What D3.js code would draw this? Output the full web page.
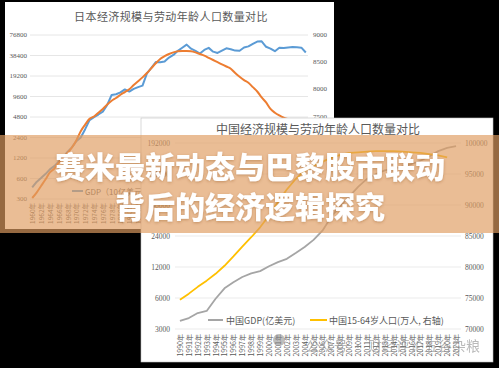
<!DOCTYPE html>
<html><head><meta charset="utf-8">
<script src="https://cdn.jsdelivr.net/npm/d3@7"></script>
<style>body{margin:0;background:#000;} svg{display:block;}</style>
</head><body>
<svg id="c" width="499" height="368"></svg>
<script>
// ---------- Japan chart data ----------
const jpYears = [1960,1961,1962,1963,1964,1965,1966,1967,1968,1969,1970,1971,1972,1973,1974,1975,1976,1977,1978,1979,1980,1981,1982,1983,1984,1985,1986,1987,1988,1989,1990,1991,1992,1993,1994,1995,1996,1997,1998,1999,2000,2001,2002,2003,2004,2005,2006,2007,2008,2009,2010,2011,2012,2013,2014,2015,2016,2017,2018,2019,2020,2021,2022];
const jpGDP = [443,535,608,697,816,910,1060,1230,1470,1720,2120,2400,3180,4320,4780,5220,5760,7210,10100,10370,11050,12180,11340,12440,13180,13850,21000,25300,30720,30540,31330,35840,39090,45000,49980,55460,48330,44920,40980,46360,49680,43740,41830,45190,48930,47550,45300,45150,50380,52310,57000,61570,62030,51560,48500,44440,50030,49300,50400,51180,50550,50050,42560];
const jpWorkAge = [6000,6100,6220,6340,6470,6540,6650,6740,6830,6930,7060,7230,7350,7460,7500,7570,7640,7720,7790,7840,7900,7950,8000,8080,8150,8220,8300,8390,8480,8560,8610,8650,8680,8700,8705,8705,8700,8680,8650,8620,8580,8540,8500,8460,8420,8380,8300,8230,8170,8120,8040,7960,7850,7760,7640,7570,7520,7480,7450,7420,7400,7380,7360];
const jpLeftTicks = [300,600,1200,2400,4800,9600,19200,38400,76800];
const jpRightTicks = [6000,6500,7000,7500,8000,8500,9000];
const jpTitle = "日本经济规模与劳动年龄人口数量对比";
const jpLegend = ["GDP（10亿美元）"];

// ---------- China chart data ----------
const cnYears = [1990,1991,1992,1993,1994,1995,1996,1997,1998,1999,2000,2001,2002,2003,2004,2005,2006,2007,2008,2009,2010,2011,2012,2013,2014,2015,2016,2017,2018,2019,2020,2021];
const cnGDP = [3590,3830,4290,4490,5900,7450,8550,9600,10400,10950,12200,13400,14400,16400,18800,22000,27000,37000,47000,58000,72000,86000,96000,104000,108000,114000,120000,129000,143000,160000,172000,179000];
const cnWorkAge = [74700,75700,76800,77800,78900,80200,81700,83300,84800,86400,88300,90500,92500,94200,95500,96300,97000,97600,98100,98400,98500,98600,98700,98700,98700,98600,98500,98400,98200,98000,97700];
const cnLeftTicks = [3000,6000,12000,24000,48000,96000,192000];
const cnRightTicks = [70000,75000,80000,85000,90000,95000,100000];
const cnTitle = "中国经济规模与劳动年龄人口数量对比";
const cnLegend = ["中国GDP(亿美元)","中国15-64岁人口(万人, 右轴)"];

const bannerLines = ["赛米最新动态与巴黎股市联动","背后的经济逻辑探究"];
const watermark = "公众号 · 财经评论五谷杂粮";

const CJK = "'Noto Sans CJK SC','Noto Sans',sans-serif";
const NUM = "'Liberation Serif','DejaVu Serif',serif";
const TXT = "#595959";

const svg = d3.select('#c');
svg.append('rect').attr('width',499).attr('height',368).attr('fill','#000');

// ================= Japan panel =================
const jp = svg.append('g');
jp.append('rect').attr('x',5).attr('y',2).attr('width',329).attr('height',227).attr('fill','#fff');
jp.append('text').attr('x',171).attr('y',16).attr('text-anchor','middle').attr('dominant-baseline','central')
  .attr('font-family',CJK).attr('font-size',11).attr('fill',TXT).attr('letter-spacing',0.4).text(jpTitle);

const jx = d3.scaleBand().domain(jpYears).range([30,308]);
const jbw = jx.bandwidth()/2;
const jyL = d3.scaleLog().base(2).domain([300,76800]).range([199,35]);
const jyR = d3.scaleLinear().domain([6000,9000]).range([198,35]);

jp.selectAll('line.g').data(jpLeftTicks).join('line')
  .attr('x1',30).attr('x2',308).attr('y1',d=>jyL(d)).attr('y2',d=>jyL(d))
  .attr('stroke','#e0e0e0').attr('stroke-width',0.8);
jp.selectAll('text.l').data(jpLeftTicks).join('text')
  .attr('x',27).attr('y',d=>jyL(d)).attr('text-anchor','end').attr('dominant-baseline','central')
  .attr('font-family',NUM).attr('font-size',7).attr('fill',TXT).text(d=>d);
jp.selectAll('text.r').data(jpRightTicks).join('text')
  .attr('x',313).attr('y',d=>jyR(d)).attr('text-anchor','start').attr('dominant-baseline','central')
  .attr('font-family',NUM).attr('font-size',7).attr('fill',TXT).text(d=>d);
jp.selectAll('text.x').data(jpYears.filter((d,i)=>i%2===0)).join('text')
  .attr('transform',d=>`translate(${jx(d)+jbw},203) rotate(-90)`)
  .attr('text-anchor','end').attr('dominant-baseline','central')
  .attr('font-family',CJK).attr('font-size',6.5).attr('fill',TXT).text(d=>d+'年');

const jLineG = d3.line().x((d,i)=>jx(jpYears[i])+jbw).y(d=>jyL(d));
const jLineP = d3.line().x((d,i)=>jx(jpYears[i])+jbw).y(d=>jyR(d)).curve(d3.curveMonotoneX);
jp.append('path').attr('d',jLineG(jpGDP)).attr('fill','none').attr('stroke','#5b9bd5').attr('stroke-width',2).attr('stroke-linejoin','round');
jp.append('path').attr('d',jLineP(jpWorkAge)).attr('fill','none').attr('stroke','#ed7d31').attr('stroke-width',2).attr('stroke-linejoin','round');

// legend (visible part)
jp.append('line').attr('x1',72).attr('x2',83).attr('y1',191).attr('y2',191).attr('stroke','#5b9bd5').attr('stroke-width',2);
jp.append('text').attr('x',85).attr('y',191).attr('dominant-baseline','central').attr('font-family',CJK).attr('font-size',8).attr('fill',TXT).text(jpLegend[0]);

// ================= China panel =================
const cn = svg.append('g');
cn.append('rect').attr('x',141).attr('y',118).attr('width',352).attr('height',244).attr('fill','#fff').attr('stroke','#bfbfbf').attr('stroke-width',0.6);
cn.append('text').attr('x',318).attr('y',128).attr('text-anchor','middle').attr('dominant-baseline','central')
  .attr('font-family',CJK).attr('font-size',12).attr('fill',TXT).text(cnTitle);

const cx = d3.scaleBand().domain(cnYears).range([175.5,460.5]);
const cbw = cx.bandwidth()/2;
const cyL = d3.scaleLog().base(2).domain([3000,192000]).range([329,143]);
const cyR = d3.scaleLinear().domain([70000,100000]).range([329,143]);

cn.selectAll('line.g').data(cnLeftTicks).join('line')
  .attr('x1',175).attr('x2',461).attr('y1',d=>cyL(d)).attr('y2',d=>cyL(d))
  .attr('stroke','#e6e6e6').attr('stroke-width',0.8);
cn.selectAll('text.l').data(cnLeftTicks).join('text')
  .attr('x',170).attr('y',d=>cyL(d)).attr('text-anchor','end').attr('dominant-baseline','central')
  .attr('font-family',NUM).attr('font-size',7.5).attr('fill',TXT).text(d=>d);
cn.selectAll('text.r').data(cnRightTicks).join('text')
  .attr('x',465).attr('y',d=>cyR(d)).attr('text-anchor','start').attr('dominant-baseline','central')
  .attr('font-family',NUM).attr('font-size',7.5).attr('fill',TXT).text(d=>d);
cn.selectAll('text.x').data(cnYears).join('text')
  .attr('transform',d=>`translate(${cx(d)+cbw},334) rotate(-90)`)
  .attr('text-anchor','end').attr('dominant-baseline','central')
  .attr('font-family',CJK).attr('font-size',7).attr('fill',TXT).text(d=>d+'年');

const cLineG = d3.line().x((d,i)=>cx(cnYears[i])+cbw).y(d=>cyL(d));
const cLineP = d3.line().x((d,i)=>cx(cnYears[i])+cbw).y(d=>cyR(d));
cn.append('path').attr('d',cLineG(cnGDP)).attr('fill','none').attr('stroke','#a5a5a5').attr('stroke-width',1.8).attr('stroke-linejoin','round');
cn.append('path').attr('d',cLineP(cnWorkAge)).attr('fill','none').attr('stroke','#ffc000').attr('stroke-width',1.8).attr('stroke-linejoin','round');

cn.append('line').attr('x1',208).attr('x2',223).attr('y1',320).attr('y2',320).attr('stroke','#a5a5a5').attr('stroke-width',2);
cn.append('text').attr('x',226).attr('y',320).attr('dominant-baseline','central').attr('font-family',CJK).attr('font-size',9).attr('fill',TXT).text(cnLegend[0]);
cn.append('line').attr('x1',310).attr('x2',327).attr('y1',320).attr('y2',320).attr('stroke','#ffc000').attr('stroke-width',2);
cn.append('text').attr('x',329).attr('y',320).attr('dominant-baseline','central').attr('font-family',CJK).attr('font-size',9).attr('fill',TXT).text(cnLegend[1]);

// watermark
cn.append('circle').attr('cx',279).attr('cy',340).attr('r',6).attr('fill','#888').attr('opacity',0.55);
cn.append('text').attr('x',480).attr('y',345).attr('text-anchor','end').attr('dominant-baseline','central')
  .attr('font-family',CJK).attr('font-size',14).attr('fill','#8c8c8c').attr('opacity',0.6).text(watermark);

// ================= Banner =================
const defs = svg.append('defs');
const f = defs.append('filter').attr('id','sh').attr('x','-10%').attr('y','-30%').attr('width','120%').attr('height','160%');
f.append('feDropShadow').attr('dx',0).attr('dy',1).attr('stdDeviation',1.5).attr('flood-color','#7a3d10').attr('flood-opacity',0.35);

svg.append('rect').attr('x',0).attr('y',135).attr('width',499).attr('height',98).attr('fill','rgba(224,157,97,0.67)');
svg.selectAll('text.b').data(bannerLines).join('text')
  .attr('x',250).attr('y',(d,i)=>165+i*40).attr('text-anchor','middle').attr('dominant-baseline','central')
  .attr('font-family',CJK).attr('font-weight',900).attr('font-size',30).attr('fill','#fff')
  .attr('filter','url(#sh)').text(d=>d);
</script>
</body></html>
